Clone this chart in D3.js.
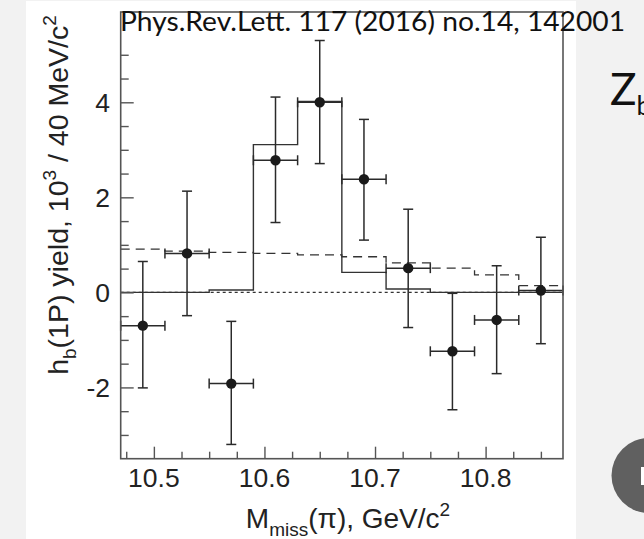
<!DOCTYPE html>
<html>
<head>
<meta charset="utf-8">
<script src="https://cdn.jsdelivr.net/npm/d3@7"></script>
<style>
  html, body { margin: 0; padding: 0; background: #f2f2f2; }
  svg { display: block; }
</style>
</head>
<body>
<svg id="chart" width="644" height="539"></svg>
<script>
// ---- data ----
const xCenters = [10.49, 10.53, 10.57, 10.61, 10.65, 10.69, 10.73, 10.77, 10.81, 10.85];
const yields   = [-0.70, 0.82, -1.92, 2.78, 4.00, 2.38, 0.51, -1.24, -0.58, 0.04];
const errUpper = [0.65, 2.13, -0.61, 4.11, 5.30, 3.64, 1.75, -0.02, 0.56, 1.16];
const errLower = [-2.01, -0.49, -3.20, 1.47, 2.71, 1.10, -0.74, -2.47, -1.71, -1.08];
const binHalfWidth = 0.02;
const binEdges = [10.47, 10.51, 10.55, 10.59, 10.63, 10.67, 10.71, 10.75, 10.79, 10.83, 10.87];
const fitTotal = [0, 0, 0.05, 3.11, 4.02, 0.42, 0.07, 0, 0, 0];
const fitBackground = [0.91, 0.87, 0.84, 0.82, 0.79, 0.75, 0.62, 0.51, 0.37, 0.14];
const zeroLine = [0, 0];
const xMajorTicks = [10.5, 10.6, 10.7, 10.8];
const xMinorTicks = [10.475, 10.525, 10.55, 10.575, 10.625, 10.65, 10.675, 10.725, 10.75, 10.775, 10.825, 10.85];
const yMajorTicks = [-2, 0, 2, 4];
const yMinorTicks = [-3, -2.5, -1.5, -1, -0.5, 0.5, 1, 1.5, 2.5, 3, 3.5, 4.5, 5];
const citation = "Phys.Rev.Lett. 117 (2016) no.14, 142001";

(function () {
const svg = d3.select("#chart");

svg.append("rect").attr("x", 26).attr("y", 1).attr("width", 550).attr("height", 538).attr("fill", "#ffffff");

const pL = 120.7, pR = 563, pT = 12, pB = 458.7;
const x = d3.scaleLinear().domain([10.47, 10.87]).range([pL, pR]);
const y = d3.scaleLinear().domain([-3.5, 5.9]).range([pB, pT]);

const lineColor = "#333";
const g = svg.append("g");

g.append("line")
  .attr("x1", x(binEdges[0])).attr("x2", x(binEdges[binEdges.length - 1]))
  .attr("y1", y(zeroLine[0])).attr("y2", y(zeroLine[1]))
  .attr("stroke", lineColor).attr("stroke-width", 1.2).attr("stroke-dasharray", "3,3");

const stepPts = arr => arr.map((v, i) => [binEdges[i], v]).concat([[binEdges[binEdges.length - 1], arr[arr.length - 1]]]);
const stepLine = d3.line().x(d => x(d[0])).y(d => y(d[1])).curve(d3.curveStepAfter);

g.append("path").attr("d", stepLine(stepPts(fitBackground)))
  .attr("fill", "none").attr("stroke", lineColor).attr("stroke-width", 1.3).attr("stroke-dasharray", "9,6");

g.append("path").attr("d", stepLine(stepPts(fitTotal)))
  .attr("fill", "none").attr("stroke", lineColor).attr("stroke-width", 1.4);

const eb = g.append("g").attr("stroke", "#2a2a2a").attr("stroke-width", 1.5).attr("fill", "none");
const cap = 5;
xCenters.forEach((xc, i) => {
  const cx = x(xc), cy = y(yields[i]);
  const yt = y(errUpper[i]), yb = y(errLower[i]);
  const xl = x(xc - binHalfWidth), xr = x(xc + binHalfWidth);
  eb.append("line").attr("x1", cx).attr("x2", cx).attr("y1", yt).attr("y2", yb);
  eb.append("line").attr("x1", cx - cap).attr("x2", cx + cap).attr("y1", yt).attr("y2", yt);
  eb.append("line").attr("x1", cx - cap).attr("x2", cx + cap).attr("y1", yb).attr("y2", yb);
  eb.append("line").attr("x1", xl).attr("x2", xr).attr("y1", cy).attr("y2", cy);
  eb.append("line").attr("x1", xl).attr("x2", xl).attr("y1", cy - cap).attr("y2", cy + cap);
  eb.append("line").attr("x1", xr).attr("x2", xr).attr("y1", cy - cap).attr("y2", cy + cap);
});
g.selectAll("circle.pt").data(xCenters).join("circle")
  .attr("class", "pt")
  .attr("cx", d => x(d)).attr("cy", (d, i) => y(yields[i])).attr("r", 5.2)
  .attr("fill", "#1a1a1a");

const axisColor = "#555";
const fontTicks = "'Liberation Sans', Arial, Helvetica, sans-serif";
const xAxisMajor = svg.append("g").attr("transform", `translate(0,${pB})`)
  .call(d3.axisTop(x).tickValues(xMajorTicks).tickSize(12).tickFormat(""));
const xAxisMinor = svg.append("g").attr("transform", `translate(0,${pB})`)
  .call(d3.axisTop(x).tickValues(xMinorTicks).tickSize(7).tickFormat(""));
const yAxisMajor = svg.append("g").attr("transform", `translate(${pL},0)`)
  .call(d3.axisRight(y).tickValues(yMajorTicks).tickSize(13).tickFormat(""));
const yAxisMinor = svg.append("g").attr("transform", `translate(${pL},0)`)
  .call(d3.axisRight(y).tickValues(yMinorTicks).tickSize(8).tickFormat(""));
[xAxisMajor, xAxisMinor, yAxisMajor, yAxisMinor].forEach(a => {
  a.select(".domain").remove();
  a.selectAll("line").attr("stroke", axisColor).attr("stroke-width", 1.4);
});

svg.append("g").selectAll("text").data(xMajorTicks).join("text")
  .attr("x", d => x(d)).attr("y", 487).attr("text-anchor", "middle")
  .attr("font-family", fontTicks).attr("font-size", 26.5).attr("fill", "#222")
  .text(d => d3.format(".1f")(d));
svg.append("g").selectAll("text").data(yMajorTicks).join("text")
  .attr("x", 110).attr("y", d => y(d) + 9.5).attr("text-anchor", "end")
  .attr("font-family", fontTicks).attr("font-size", 26.5).attr("fill", "#222")
  .text(d => d);

svg.append("rect").attr("x", pL).attr("y", pT).attr("width", pR - pL).attr("height", pB - pT)
  .attr("fill", "none").attr("stroke", axisColor).attr("stroke-width", 1.6);

const xt = svg.append("text").attr("x", 348).attr("y", 528).attr("text-anchor", "middle")
  .attr("font-family", fontTicks).attr("font-size", 28).attr("fill", "#222");
xt.append("tspan").text("M");
xt.append("tspan").attr("font-size", 19).attr("dy", 8).text("miss");
xt.append("tspan").attr("dy", -8).text("(\u03c0), GeV/c");
xt.append("tspan").attr("font-size", 19).attr("dy", -12).text("2");

const ytt = svg.append("text").attr("transform", "translate(68,195) rotate(-90)").attr("text-anchor", "middle")
  .attr("font-family", fontTicks).attr("font-size", 28.5).attr("fill", "#222");
ytt.append("tspan").text("h");
ytt.append("tspan").attr("font-size", 19).attr("dy", 8).text("b");
ytt.append("tspan").attr("dy", -8).text("(1P) yield, 10");
ytt.append("tspan").attr("font-size", 19).attr("dy", -12).text("3");
ytt.append("tspan").attr("dy", 12).text(" / 40 MeV/c");
ytt.append("tspan").attr("font-size", 19).attr("dy", -12).text("2");

svg.append("text").attr("x", 120).attr("y", 31)
  .attr("font-family", "Lato, 'Open Sans', sans-serif").attr("font-size", 26).attr("fill", "#111")
  .attr("textLength", 505).attr("lengthAdjust", "spacingAndGlyphs")
  .text(citation);

const zt = svg.append("text").attr("x", 610).attr("y", 105)
  .attr("font-family", "Lato, 'Open Sans', sans-serif").attr("font-size", 44).attr("fill", "#111");
zt.append("tspan").text("Z");
zt.append("tspan").attr("font-size", 26).attr("dy", 10).text("b");
svg.append("circle").attr("cx", 649).attr("cy", 475.5).attr("r", 37.5).attr("fill", "#606060");
svg.append("rect").attr("x", 641).attr("y", 467).attr("width", 4).attr("height", 18).attr("fill", "#ffffff");
})();
</script>
</body>
</html>
